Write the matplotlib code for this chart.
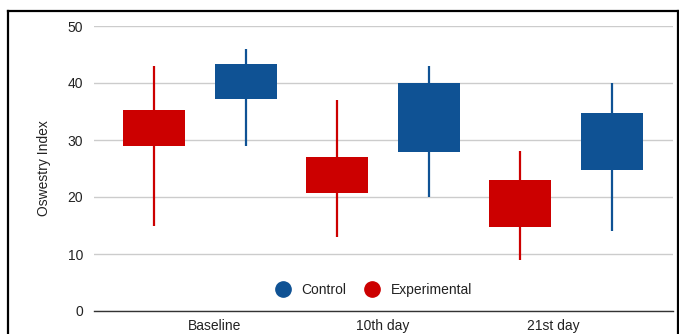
import matplotlib.pyplot as plt
from matplotlib.lines import Line2D
import numpy as np

plt.rcParams['font.family'] = ['Liberation Sans', 'DejaVu Sans']

days = ['Baseline', '10th day', '21st day']

# candlestick values: whisker low, box low, box high, whisker high
exp_low = [15, 13, 9]
exp_open = [29, 20.7, 14.7]
exp_close = [35.2, 27, 23]
exp_high = [43, 37, 28]

ctl_low = [29, 20, 14]
ctl_open = [37.2, 27.9, 24.7]
ctl_close = [43.3, 40, 34.7]
ctl_high = [46, 43, 40]

red = '#cc0000'
blue = '#0f5294'

fig = plt.figure(figsize=(6.79, 3.34), dpi=100)
ax = fig.add_axes([94/679, 23/334, 579/679, 285/334])

x = np.arange(len(days))
off = 0.25
w = 0.34

for xs, lo, o, c, hi, col in [(x - off, exp_low, exp_open, exp_close, exp_high, red),
                              (x + off, ctl_low, ctl_open, ctl_close, ctl_high, blue)]:
    ax.vlines(xs, lo, hi, color=col, lw=1.6, zorder=2)
    ax.bar(xs, np.array(c) - np.array(o), bottom=o, width=w, color=col, zorder=3)

ax.set_xlim(-0.58, 2.585)
ax.set_ylim(0, 50)
ax.set_yticks([0, 10, 20, 30, 40, 50])
# labels sit slightly off the category centres, as in the original
ax.set_xticks(x + np.array([0.08, 0.0, -0.07]))
ax.set_xticklabels(days)
ax.tick_params(length=0, labelsize=10, colors='#222222')
ax.tick_params(axis='y', pad=8)
ax.tick_params(axis='x', pad=6)
ax.grid(axis='y', color='#cccccc', lw=1, zorder=0)
ax.set_axisbelow(True)
for s in ['top', 'right', 'left']:
    ax.spines[s].set_visible(False)
ax.spines['bottom'].set_color('#333333')
ax.spines['bottom'].set_linewidth(1)
ax.set_ylabel('Oswestry Index', fontsize=10, color='#222222', labelpad=12)

handles = [Line2D([], [], marker='o', ls='', color=blue, markersize=11),
           Line2D([], [], marker='o', ls='', color=red, markersize=11)]
ax.legend(handles, ['Control', 'Experimental'], loc='center', bbox_to_anchor=(0.478, 0.075),
          ncol=2, frameon=False, fontsize=10, handletextpad=0.35, columnspacing=0.85,
          labelcolor='#222222')

# black frame around the chart
fig.add_artist(Line2D([8/679, 678/679], [1 - 11/334, 1 - 11/334], color='black', lw=1.6))
fig.add_artist(Line2D([8/679, 8/679], [0, 1 - 11/334], color='black', lw=1.6))
fig.add_artist(Line2D([678/679, 678/679], [0, 1 - 11/334], color='black', lw=1.6))

fig.savefig('out.png', dpi=100)
